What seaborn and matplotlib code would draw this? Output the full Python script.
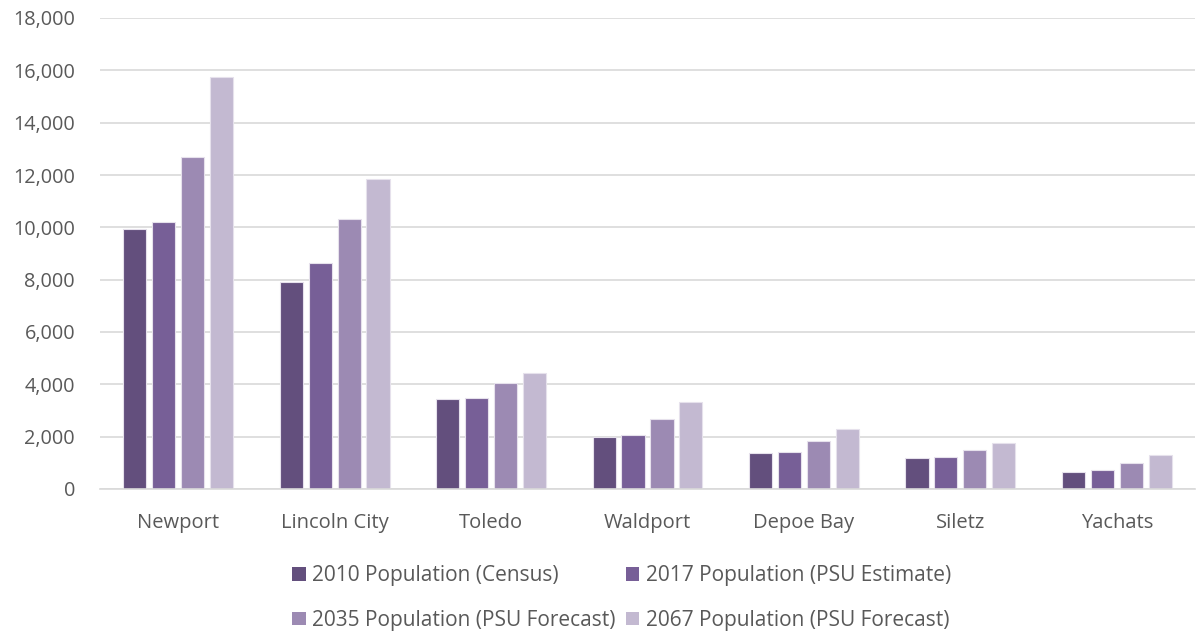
import matplotlib
matplotlib.use("Agg")
import matplotlib.pyplot as plt
import seaborn as sns
import pandas as pd
from matplotlib.ticker import FuncFormatter, MultipleLocator
from matplotlib.patches import Patch

cities = ["Newport", "Lincoln City", "Toledo", "Waldport", "Depoe Bay", "Siletz", "Yachats"]
series = ["2010 Population (Census)", "2017 Population (PSU Estimate)",
          "2035 Population (PSU Forecast)", "2067 Population (PSU Forecast)"]
pop_2010 = [9950, 7910, 3430, 2000, 1380, 1170, 660]
pop_2017 = [10190, 8650, 3470, 2050, 1410, 1210, 710]
pop_2035 = [12700, 10320, 4050, 2660, 1830, 1500, 980]
pop_2067 = [15730, 11840, 4420, 3340, 2300, 1760, 1300]
colors = ["#634f7d", "#775f97", "#9c8ab3", "#c3b9d1"]

rows = []
for s, vals in zip(series, [pop_2010, pop_2017, pop_2035, pop_2067]):
    for c, v in zip(cities, vals):
        rows.append({"city": c, "series": s, "value": v})
df = pd.DataFrame(rows)

sns.set_theme(style="white")
plt.rcParams["font.family"] = ["Open Sans", "DejaVu Sans"]
text_color = "#595959"

fig = plt.figure(figsize=(12.02, 6.35), dpi=100)
ax = fig.add_axes([100/1202, 1 - 489/635, 1095/1202, (489-18)/635])

sns.barplot(data=df, x="city", y="value", hue="series", palette=colors,
            width=0.74, gap=0.2, ax=ax, legend=False,
            edgecolor="#e6e1ec", linewidth=0.8, saturation=1)

ax.set_ylim(0, 18000)
ax.set_xlim(-0.5, len(cities) - 0.5)
ax.yaxis.set_major_locator(MultipleLocator(2000))
ax.yaxis.set_major_formatter(FuncFormatter(lambda v, p: f"{int(v):,}"))
ax.grid(axis="y", color="#d9d9d9", linewidth=1.2)
ax.set_axisbelow(True)
for sp in ["top", "right", "left"]:
    ax.spines[sp].set_visible(False)
ax.spines["bottom"].set_color("#d9d9d9")
ax.spines["bottom"].set_linewidth(1.2)
ax.set_xlabel("")
ax.set_ylabel("")
ax.tick_params(axis="both", length=0, colors=text_color)
ax.tick_params(axis="y", labelsize=14.3, pad=18)
ax.tick_params(axis="x", labelsize=14.5, pad=17)

handles = [Patch(facecolor=c, edgecolor="none") for c in colors]
order = [0, 2, 1, 3]
fig.legend([handles[i] for i in order], [series[i] for i in order],
           loc="center", bbox_to_anchor=(0.517, 0.0585),
           ncol=2, frameon=False, fontsize=15, labelcolor=text_color,
           handlelength=0.65, handleheight=0.65, handletextpad=0.3,
           columnspacing=0.5, labelspacing=1.15, borderpad=0)

fig.savefig("out.png", dpi=100)
